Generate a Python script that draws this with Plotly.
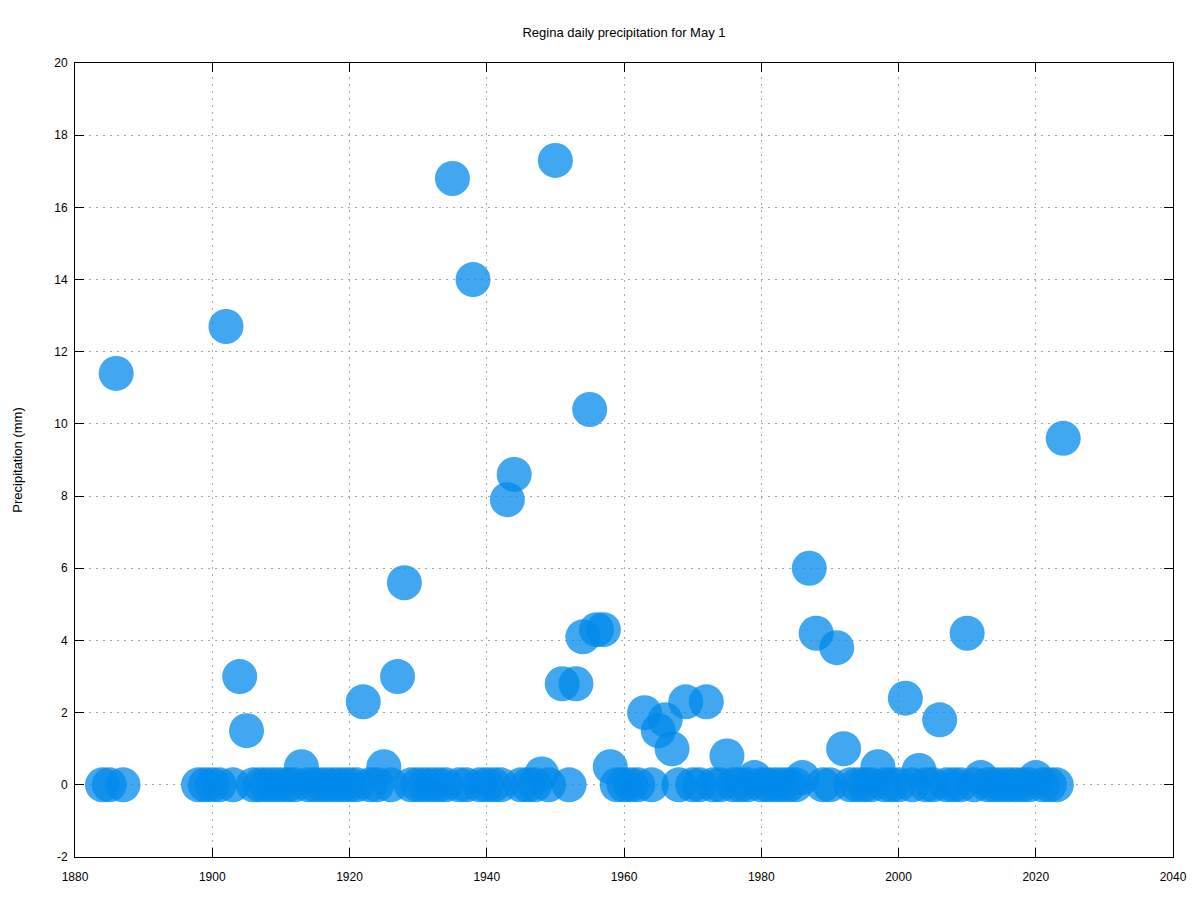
import plotly.graph_objects as go

years = [1884, 1885, 1886, 1887,
         1898, 1899, 1900, 1901, 1902, 1903, 1904, 1905, 1906, 1907, 1908, 1909,
         1910, 1911, 1912, 1913, 1914, 1915, 1916, 1917, 1918, 1919,
         1920, 1921, 1922, 1923, 1924, 1925, 1926, 1927, 1928, 1929,
         1930, 1931, 1932, 1933, 1934, 1935, 1936, 1937, 1938, 1939,
         1940, 1941, 1942, 1943, 1944, 1945, 1946, 1947, 1948, 1949,
         1950, 1951, 1952, 1953, 1954, 1955, 1956, 1957, 1958, 1959,
         1960, 1961, 1962, 1963, 1964, 1965, 1966, 1967, 1968, 1969,
         1970, 1971, 1972, 1973, 1974, 1975, 1976, 1977, 1978, 1979,
         1980, 1981, 1982, 1983, 1984, 1985, 1986, 1987, 1988, 1989,
         1990, 1991, 1992, 1993, 1994, 1995, 1996, 1997, 1998, 1999,
         2000, 2001, 2002, 2003, 2004, 2005, 2006, 2007, 2008, 2009,
         2010, 2011, 2012, 2013, 2014, 2015, 2016, 2017, 2018, 2019,
         2020, 2021, 2022, 2023, 2024]

precip_mm = [0, 0, 11.4, 0,
             0, 0, 0, 0, 12.7, 0, 3.0, 1.5, 0, 0, 0, 0,
             0, 0, 0, 0.5, 0, 0, 0, 0, 0, 0,
             0, 0, 2.3, 0, 0, 0.5, 0, 3.0, 5.6, 0,
             0, 0, 0, 0, 0, 16.8, 0, 0, 14.0, 0,
             0, 0, 0, 7.9, 8.6, 0, 0, 0, 0.3, 0,
             17.3, 2.8, 0, 2.8, 4.1, 10.4, 4.3, 4.3, 0.5, 0,
             0, 0, 0, 2.0, 0, 1.5, 1.8, 1.0, 0, 2.3,
             0, 0, 2.3, 0, 0, 0.8, 0, 0, 0, 0.2,
             0, 0, 0, 0, 0, 0, 0.2, 6.0, 4.2, 0,
             0, 3.8, 1.0, 0, 0, 0, 0, 0.5, 0, 0,
             0, 2.4, 0, 0.4, 0, 0, 1.8, 0, 0, 0,
             4.2, 0, 0.2, 0, 0, 0, 0, 0, 0, 0,
             0.2, 0, 0, 0, 9.6]

x_ticks = [1880, 1900, 1920, 1940, 1960, 1980, 2000, 2020, 2040]
y_ticks = [-2, 0, 2, 4, 6, 8, 10, 12, 14, 16, 18, 20]

title_text = "Regina daily precipitation for May 1"
y_title = "Precipitation (mm)"

fig = go.Figure()
fig.add_trace(go.Scatter(
    x=years, y=precip_mm, mode="markers",
    marker=dict(size=35, color="rgb(0,138,235)", opacity=0.75, line=dict(width=0)),
    showlegend=False, hoverinfo="x+y",
))

font_family = "Liberation Sans, Arial, sans-serif"
axis_common = dict(
    showline=True, linecolor="black", linewidth=1, mirror="ticks",
    ticks="inside", ticklen=9, tickcolor="black", tickwidth=1,
    showgrid=True, gridcolor="#aaaaaa", gridwidth=1, griddash="2px,5px",
    zeroline=False, tickfont=dict(family=font_family, size=12, color="black"),
)

fig.update_xaxes(range=[1880, 2040], tickvals=x_ticks, ticktext=[str(v) for v in x_ticks],
                 ticklabelstandoff=9, **axis_common)
fig.update_yaxes(range=[-2, 20], tickvals=y_ticks, ticktext=[str(v) for v in y_ticks],
                 ticklabelstandoff=4,
                 title=dict(text=y_title, font=dict(family=font_family, size=13, color="black"), standoff=28),
                 **axis_common)

fig.update_layout(
    width=1200, height=900,
    margin=dict(l=75, r=27, t=63, b=43),
    plot_bgcolor="white", paper_bgcolor="white",
    title=dict(text=title_text, x=(75 + 1173) / 2 / 1200, xanchor="center", y=1 - 32 / 900, yanchor="middle",
               font=dict(family=font_family, size=13, color="black")),
    font=dict(family=font_family, color="black"),
)

fig.write_html("out.html")
